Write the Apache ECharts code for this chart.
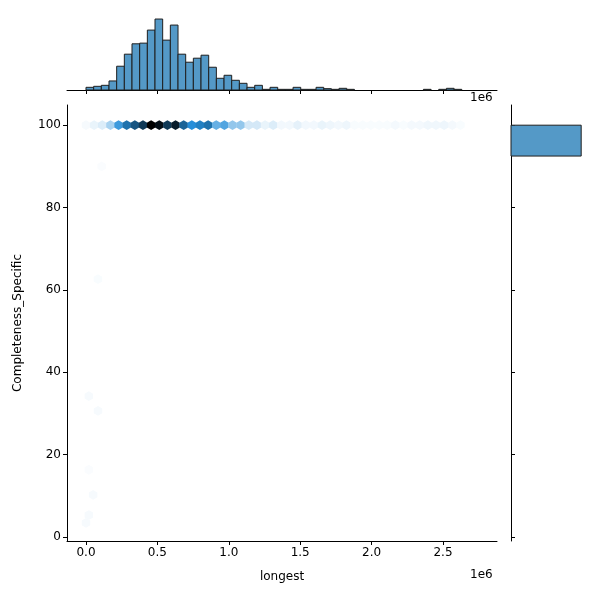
<!DOCTYPE html>
<html><head><meta charset="utf-8">
<script src="https://cdn.jsdelivr.net/npm/echarts@6/dist/echarts.min.js"></script>
<style>html,body{margin:0;background:#fff}#c{width:600px;height:600px}</style></head>
<body><div id="c"></div>
<script>
// top marginal histogram: bin start, bin width, relative counts
const binStart = 0;
const binWidth = 53700;
const histCounts = [8,11,14,27,71,107,138,140,179,212,149,194,107,83,95,104,68,35,44,29,20,8,14,2,8,2,2,8,2,2,8,4,2,5,2,0,0,0,0,0,0,0,0,0,2,0,2,5,2];
// hexbin row at Completeness=100: x centres (raw) and intensity (0..1)
const hexRowX = [0,57000,114000,171000,228000,285000,342000,399000,456000,513000,570000,627000,684000,741000,798000,855000,912000,969000,1026000,1083000,1140000,1197000,1254000,1311000,1368000,1425000,1482000,1539000,1596000,1653000,1710000,1767000,1824000,1881000,1938000,1995000,2052000,2109000,2166000,2223000,2280000,2337000,2394000,2451000,2508000,2565000,2622000];
const hexRowV = [0.02,0.05,0.08,0.2,0.45,0.6,0.7,0.8,1.0,0.95,0.8,0.9,0.65,0.5,0.55,0.6,0.35,0.4,0.25,0.25,0.1,0.1,0.05,0.08,0.03,0.03,0.06,0.03,0.03,0.05,0.04,0.03,0.04,0.015,0.015,0.015,0.015,0.015,0.025,0.015,0.025,0.025,0.035,0.035,0.04,0.025,0.015];
// scattered low-completeness hexes
const lowX = [84000,20000,84000,20000,50000,20000,0,110000];
const lowY = [62.6,34.2,30.6,16.3,10.2,5.3,3.4,90];
const lowV = [0.015,0.02,0.02,0.012,0.02,0.02,0.02,0.012];
// tick values
const xTicks = [0,500000,1000000,1500000,2000000,2500000];
const yTicks = [0,20,40,60,80,100];
// right marginal histogram
const rightBinLo = [92.5];
const rightBinHi = [100];
const rightCounts = [1];

const hexData = hexRowX.map((x,i)=>[x,100,hexRowV[i]]).concat(lowX.map((x,i)=>[x,lowY[i],lowV[i]]));
function hexColor(v){const L=100-100*v;return 'hsl(205,70%,'+L+'%)';}
const font={fontFamily:'DejaVu Sans',fontSize:12,color:'#000'};
const axLine={show:true,onZero:false,lineStyle:{color:'#000',width:1}};
const xTick={show:true,inside:false,length:4,customValues:xTicks,lineStyle:{color:'#000'}};
const yTick={show:true,inside:false,length:4,customValues:yTicks,lineStyle:{color:'#000'}};
const chart=echarts.init(document.getElementById('c'),null,{renderer:'canvas'});
chart.setOption({
  animation:false,
  grid:[{left:67,right:103,top:105,bottom:59},{left:67,right:103,top:10,height:80},{left:511,width:80,top:105,bottom:59}],
  xAxis:[
    {gridIndex:0,type:'value',position:'bottom',min:-133000,max:2878000,axisLine:axLine,axisTick:xTick,splitLine:{show:false},
     axisLabel:Object.assign({customValues:xTicks,formatter:v=>(v/1e6).toFixed(1),margin:6},font),
     name:'longest',nameLocation:'middle',nameGap:30,nameTextStyle:Object.assign({},font)},
    {gridIndex:1,type:'value',position:'bottom',min:-133000,max:2878000,axisLine:axLine,axisTick:xTick,splitLine:{show:false},axisLabel:{show:false}},
    {gridIndex:2,type:'value',position:'bottom',min:0,max:1.14,axisLine:{show:false},axisTick:{show:false},splitLine:{show:false},axisLabel:{show:false}}
  ],
  yAxis:[
    {gridIndex:0,type:'value',position:'left',min:-1,max:104.9,axisLine:axLine,axisTick:yTick,splitLine:{show:false},
     axisLabel:Object.assign({customValues:yTicks,margin:6},font),
     name:'Completeness_Specific',nameLocation:'middle',nameGap:43,nameTextStyle:Object.assign({},font)},
    {gridIndex:1,type:'value',position:'left',min:0,max:239,axisLine:{show:false},axisTick:{show:false},splitLine:{show:false},axisLabel:{show:false}},
    {gridIndex:2,type:'value',position:'left',min:-1,max:104.9,axisLine:axLine,axisTick:Object.assign({},yTick,{inside:true}),splitLine:{show:false},axisLabel:{show:false}}
  ],
  graphic:[
    {type:'text',left:470,top:569,style:{text:'1e6',font:'12px DejaVu Sans',fill:'#000'}},
    {type:'text',left:470,top:92,style:{text:'1e6',font:'12px DejaVu Sans',fill:'#000'}}
  ],
  series:[
    {type:'custom',xAxisIndex:0,yAxisIndex:0,data:hexData,clip:true,
     renderItem:(p,api)=>{const c=api.coord([api.value(0),api.value(1)]);const r=4.9;const pts=[];
       for(let k=0;k<6;k++){const a=Math.PI/180*(60*k-90);pts.push([c[0]+r*Math.cos(a),c[1]+r*Math.sin(a)]);}
       return {type:'polygon',shape:{points:pts},style:{fill:hexColor(api.value(2))}};}},
    {type:'custom',xAxisIndex:1,yAxisIndex:1,data:histCounts.map((c,i)=>[binStart+i*binWidth,c]),
     renderItem:(p,api)=>{if(api.value(1)<=0)return null;const a=api.coord([api.value(0),api.value(1)]);const b=api.coord([api.value(0)+binWidth,0]);
       return {type:'rect',shape:{x:a[0],y:a[1],width:b[0]-a[0],height:b[1]-a[1]},style:{fill:'#5499c7',stroke:'#1f1f1f',lineWidth:1}};}},
    {type:'custom',xAxisIndex:2,yAxisIndex:2,data:rightCounts.map((c,i)=>[c,rightBinLo[i],rightBinHi[i]]),
     renderItem:(p,api)=>{const a=api.coord([0,api.value(2)]);const b=api.coord([api.value(0),api.value(1)]);
       return {type:'rect',shape:{x:a[0],y:a[1],width:b[0]-a[0],height:b[1]-a[1]},style:{fill:'#5499c7',stroke:'#1f1f1f',lineWidth:1}};}}
  ]
});
</script></body></html>
